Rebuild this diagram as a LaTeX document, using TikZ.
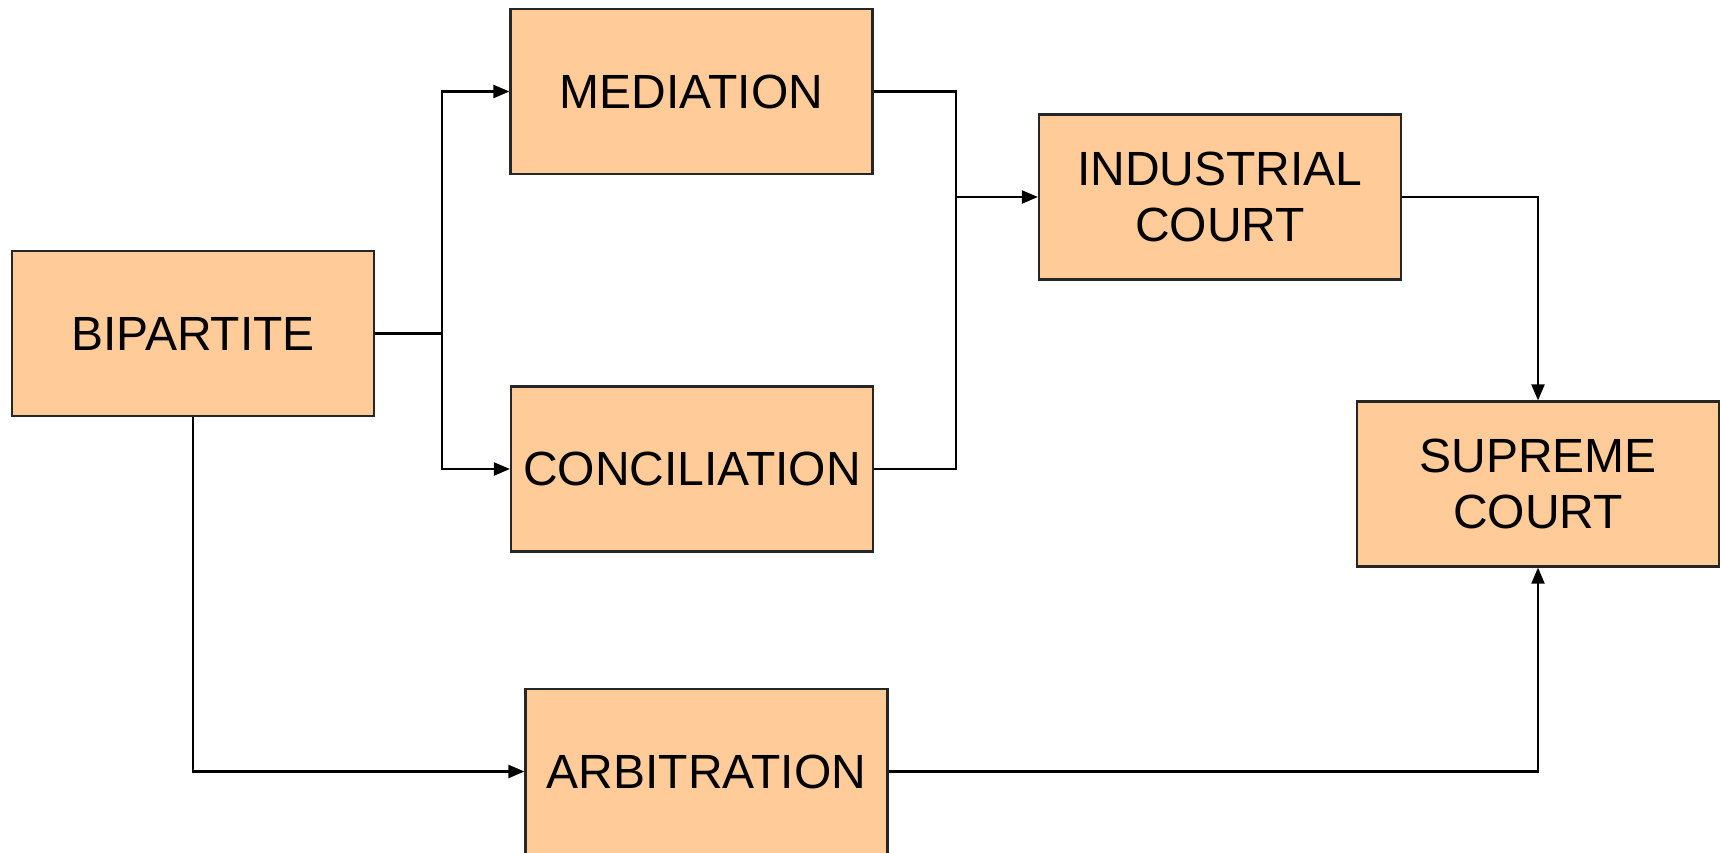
\documentclass[tikz,border=0pt]{standalone}
\usepackage{fontspec}
\setmainfont{Liberation Sans}
\usetikzlibrary{arrows.meta}
\definecolor{peach}{RGB}{255,204,153}
\tikzset{
  box/.style={draw=black!85, line width=2.2pt, fill=peach, minimum width=362pt, minimum height=165pt,
    inner sep=0pt, align=center, font=\fontsize{48}{56}\selectfont},
  conn/.style={line width=2.2pt},
  arr/.style={conn, -{Triangle[length=16pt,width=13pt]}}
}
\begin{document}
\begin{tikzpicture}[x=1pt,y=-1pt]
\useasboundingbox (0,0) rectangle (1721,852);
\node[box] (bip) at (193,333.5) {BIPARTITE};
\node[box] (med) at (691.5,91.5) {MEDIATION};
\node[box] (con) at (692,469) {CONCILIATION};
\node[box] (ind) at (1220,197) {INDUSTRIAL\\COURT};
\node[box] (sup) at (1538,484) {SUPREME\\COURT};
\node[box] (arb) at (706.5,771.5) {ARBITRATION};
\coordinate (j1) at (442,333.5);
\coordinate (j2) at (956,197);
\draw[conn] (bip.east) -- (j1);
\draw[arr] (j1) |- (med.west);
\draw[arr] (j1) |- (con.west);
\draw[conn] (med.east) -| (j2);
\draw[conn] (con.east) -| (j2);
\draw[arr] (j2) -- (ind.west);
\draw[arr] (ind.east) -| (sup.north);
\draw[arr] (bip.south) |- (arb.west);
\draw[arr] (arb.east) -| (sup.south);
\end{tikzpicture}
\end{document}
